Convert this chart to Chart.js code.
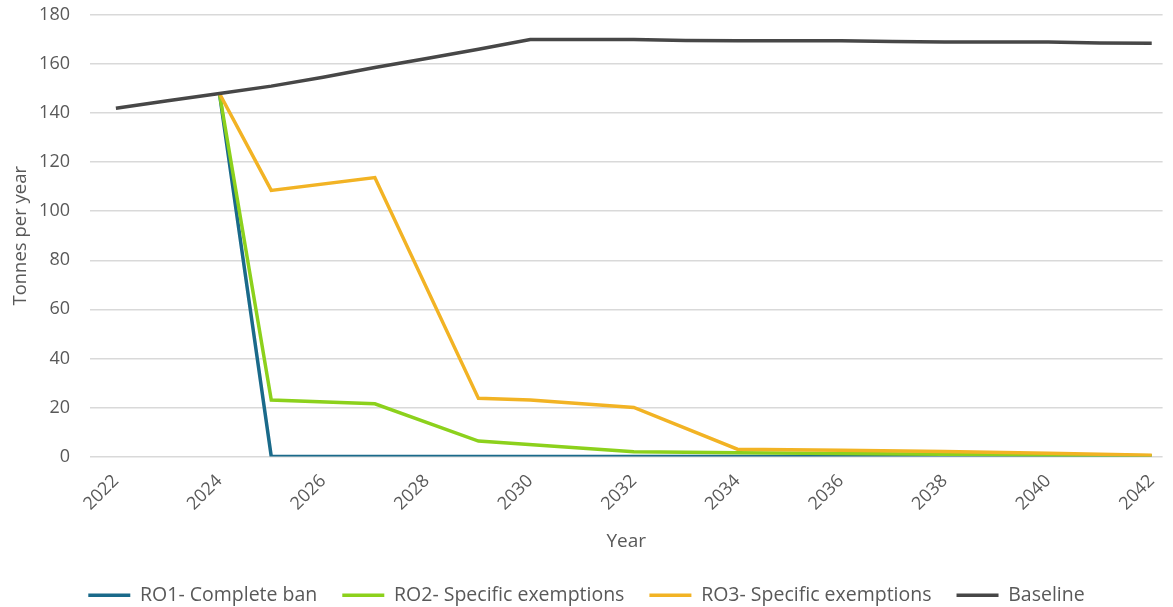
<!DOCTYPE html>
<html>
<head>
<meta charset="utf-8">
<script src="https://cdn.jsdelivr.net/npm/chart.js"></script>
<style>
  html, body { margin: 0; padding: 0; background: #fff; }
  #wrap { width: 1173px; height: 607px; }
</style>
</head>
<body>
<div id="wrap"><canvas id="tonnesChart"></canvas></div>
<script>
// years on the x axis, one value per year (null = no point, line spans the gap)
const years = [2022, 2023, 2024, 2025, 2026, 2027, 2028, 2029, 2030, 2031, 2032,
               2033, 2034, 2035, 2036, 2037, 2038, 2039, 2040, 2041, 2042];
const tickYears = [2022, 2024, 2026, 2028, 2030, 2032, 2034, 2036, 2038, 2040, 2042];
const yTicks = [0, 20, 40, 60, 80, 100, 120, 140, 160, 180];

const ro1 = [null, null, 148, 0, 0, 0, 0, 0, 0, 0, 0, 0, 0, 0, 0, 0, 0, 0, 0, 0, 0];
const ro2 = [null, null, 148, 23, null, 21.5, null, 6.3, null, null, 1.9,
             null, 1.5, null, null, null, null, null, null, null, 0.3];
const ro3 = [null, null, 148, 108.5, null, 113.7, null, 23.7, 23, null, 20,
             null, 3, null, 2.5, null, 2, null, 1.3, null, 0.5];
const baseline = [142, 145, 148, 151, 154.6, 158.6, 162.3, 166, 170, 170, 170,
                  169.6, 169.5, 169.5, 169.5, 169.2, 169, 169, 169, 168.6, 168.5];

const seriesNames = ['RO1- Complete ban', 'RO2- Specific exemptions', 'RO3- Specific exemptions', 'Baseline'];
const seriesColors = ['#1a6a8a', '#8cd11c', '#f2b324', '#474747'];

const textColor = '#595959';
const fontFamily = "'Open Sans', 'Noto Sans', sans-serif";

function toPoints(values) {
    return years.map((yr, i) => ({ x: yr, y: values[i] }));
}

const allSeries = [ro1, ro2, ro3, baseline];
const drawOrder = [3, 2, 1, 0];

const ctx = document.getElementById('tonnesChart').getContext('2d');
new Chart(ctx, {
    type: 'line',
    data: {
        datasets: allSeries.map((vals, i) => ({
            label: seriesNames[i],
            data: toPoints(vals),
            borderColor: seriesColors[i],
            backgroundColor: seriesColors[i],
            borderWidth: 3.5,
            pointRadius: 0,
            pointStyle: 'line',
            fill: false,
            spanGaps: true,
            tension: 0,
            order: drawOrder[i]
        }))
    },
    options: {
        responsive: true,
        maintainAspectRatio: false,
        animation: false,
        layout: {
            padding: { top: 15, right: 0, left: 0, bottom: -8 }
        },
        plugins: {
            tooltip: { enabled: false },
            legend: {
                position: 'bottom',
                labels: {
                    usePointStyle: true,
                    pointStyle: 'line',
                    pointStyleWidth: 42,
                    padding: 25,
                    color: textColor,
                    font: { family: fontFamily, size: 19.5 },
                    sort: (a, b) => a.datasetIndex - b.datasetIndex
                }
            }
        },
        scales: {
            x: {
                type: 'linear',
                min: 2021.5,
                max: 2042.21,
                grid: { display: false },
                border: { display: false },
                afterBuildTicks: scale => {
                    scale.ticks = tickYears.map(v => ({ value: v }));
                },
                afterFit: scale => { scale.height = 104; },
                ticks: {
                    autoSkip: false,
                    minRotation: 45,
                    maxRotation: 45,
                    padding: 6,
                    color: textColor,
                    font: { family: fontFamily, size: 18 },
                    callback: v => String(v)
                },
                title: {
                    display: true,
                    text: 'Year',
                    color: textColor,
                    font: { family: fontFamily, size: 19 },
                    padding: { top: 0, bottom: 8 }
                }
            },
            y: {
                min: 0,
                max: 180,
                afterBuildTicks: scale => {
                    scale.ticks = yTicks.map(v => ({ value: v }));
                },
                afterFit: scale => { scale.width = 90; },
                grid: {
                    color: '#d9d9d9',
                    lineWidth: 1.5,
                    drawTicks: true,
                    tickLength: 18,
                    tickColor: 'rgba(0,0,0,0)'
                },
                border: { display: false },
                ticks: {
                    padding: 2,
                    color: textColor,
                    font: { family: fontFamily, size: 18 }
                },
                title: {
                    display: true,
                    text: 'Tonnes per year',
                    color: textColor,
                    font: { family: fontFamily, size: 18.5 },
                    padding: { top: 10, bottom: 0 }
                }
            }
        }
    }
});
</script>
</body>
</html>
